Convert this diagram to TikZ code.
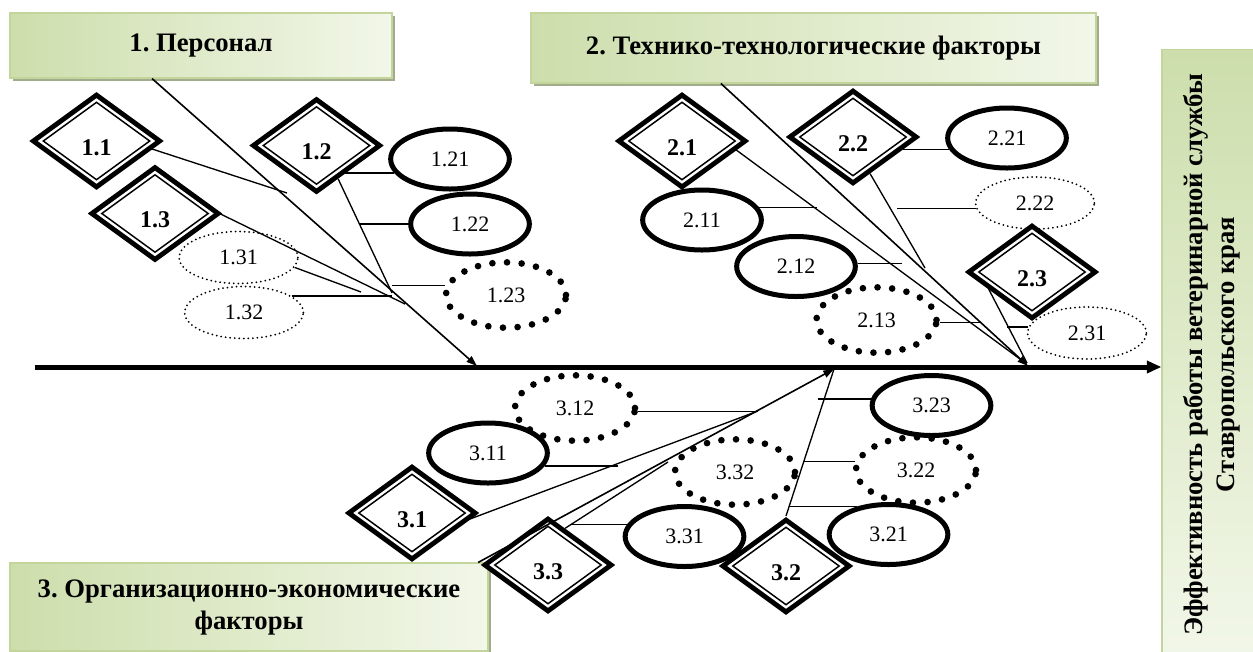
\documentclass[tikz,border=0pt]{standalone}
\usepackage{fontspec}
\setmainfont{Liberation Serif}
\usetikzlibrary{shapes.geometric,shadows,arrows.meta}

\definecolor{hdrL}{RGB}{205,222,172}
\definecolor{hdrR}{RGB}{242,247,233}
\definecolor{hdrB}{RGB}{195,213,155}
\definecolor{hdrS}{RGB}{160,172,140}

\begin{document}
\begin{tikzpicture}[x=0.75pt,y=-0.75pt,
    plate/.style={draw=hdrB,line width=0.8pt,left color=hdrL,right color=hdrR,
      inner sep=0pt,align=center,font=\fontsize{20}{24}\selectfont\bfseries\frenchspacing},
    hdr/.style={plate,
      drop shadow={shadow xshift=2.5pt,shadow yshift=-2.5pt,fill=hdrS,opacity=1}},
    fac/.style={diamond,draw=black,fill=white,line width=1.1pt,
      minimum width=84.75pt,minimum height=63pt,inner sep=0pt,outer sep=6pt,
      font=\fontsize{18}{18}\selectfont\bfseries,text height=21pt,text depth=0pt,
      preaction={draw=black,line width=12.4pt},
      preaction={fill=white},
      preaction={draw=white,line width=4.9pt}},
    sub/.style={ellipse,draw=black,inner sep=0pt,minimum width=89pt,minimum height=45pt,
      font=\fontsize{16.5}{16.5}\selectfont},
    subbold/.style={sub,line width=3.75pt},
    subdots/.style={sub,line width=5pt,line cap=round,dash pattern=on 0pt off 11pt,
      minimum width=90pt,minimum height=49pt},
    subfine/.style={sub,line width=1.5pt,line cap=round,dash pattern=on 0pt off 3.4pt,
      minimum height=39pt},
    twig/.style={draw=black,line width=1pt},
    bone/.style={line width=1.2pt,-{Triangle[length=8pt,width=5.5pt]}}]

  \useasboundingbox[fill=white] (0,0) rectangle (1253,651);

  % header boxes
  \node[hdr,minimum width=286.5pt,minimum height=48.75pt] (box1) at (201,45.5) {1. Персонал};
  \node[hdr,minimum width=423.75pt,minimum height=52.5pt] (box2) at (813.5,48) {2. Технико-технологические факторы};
  \node[hdr,minimum width=358.5pt,minimum height=66pt] (box3) at (249,607) {3. Организационно-экономические\\факторы};
  \node[plate,rotate=90,top color=hdrL,bottom color=hdrR,minimum width=458pt,minimum height=75pt] (res) at (1212,354.5)
    {Эффективность работы ветеринарной службы\\Ставропольского края};

  % second level
  \node[subbold] (e121) at (450,159) {1.21};
  \node[subbold] (e122) at (470,224) {1.22};
  \node[subdots] (e123) at (506,295) {1.23};
  \node[subfine] (e131) at (238.5,257.5) {1.31};
  \node[subfine] (e132) at (244,312.5) {1.32};
  \node[subbold] (e211) at (702,220) {2.11};
  \node[subbold] (e212) at (796,266.5) {2.12};
  \node[subdots] (e213) at (876.5,320) {2.13};
  \node[subbold] (e221) at (1007,138) {2.21};
  \node[subfine] (e222) at (1035,203) {2.22};
  \node[subfine] (e231) at (1087,333) {2.31};
  \node[subbold] (e311) at (488,453) {3.11};
  \node[subdots] (e312) at (575,408) {3.12};
  \node[subbold] (e321) at (888.5,534.5) {3.21};
  \node[subdots] (e322) at (916,470) {3.22};
  \node[subbold] (e323) at (931.5,405.5) {3.23};
  \node[subbold] (e331) at (684.5,536.5) {3.31};
  \node[subdots] (e332) at (735,472) {3.32};

  % first level
  \node[fac] (d11) at (96.5,141) {1.1};
  \node[fac] (d12) at (316.5,145.5) {1.2};
  \node[fac] (d13) at (155,213.5) {1.3};
  \node[fac] (d21) at (682,141) {2.1};
  \node[fac] (d22) at (853,137) {2.2};
  \node[fac] (d23) at (1032,272) {2.3};
  \node[fac] (d31) at (412,513) {3.1};
  \node[fac] (d32) at (786,566) {3.2};
  \node[fac] (d33) at (548,565) {3.3};

  % joints
  \coordinate (ax0) at (35,367);
  \coordinate (a1) at (477,366);
  \coordinate (a2) at (1028,366);
  \coordinate (a3) at (834,369);
  \coordinate (c11) at (287,193);
  \coordinate (c12) at (392,293);
  \coordinate (j122) at (359,224);
  \coordinate (j123) at (392,285);
  \coordinate (c13) at (405,304);
  \coordinate (c131) at (361,292);
  \coordinate (j132) at (392,297);
  \coordinate (c21) at (1024,362);
  \coordinate (j211) at (817,208);
  \coordinate (j212) at (902,263);
  \coordinate (j213) at (980,322);
  \coordinate (c22) at (925,268);
  \coordinate (j222) at (897,208);
  \coordinate (c23) at (1027,363);
  \coordinate (j231) at (1007,327);
  \coordinate (c31) at (758,411);
  \coordinate (j311) at (618,466);
  \coordinate (c33) at (668,462);
  \coordinate (j331) at (572,524);
  \coordinate (j321) at (789,507);
  \coordinate (j322) at (803,461);
  \coordinate (j323) at (818,400);

  % spine
  \draw[line width=3.75pt,-{Triangle[length=11pt,width=9pt]}] (ax0) -- (ax0 -| res.north);

  \begin{scope}[every edge/.style={twig}]
    \path (box1.214) edge[bone] (a1);
    \path (box2.201) edge[bone] (a2);
    \path (box3.11.8) edge[bone] (a3);
    % 1
    \path (d11.-8) edge (c11);
    \path (d12.-57) edge (c12);
    \path (e121.194) edge (e121.194 -| d12.-44);
    \path (e122.west) edge (e122.west -| j122);
    \path (e123.171) edge (e123.171 -| j123);
    \path (d13.east) edge (c13);
    \path (e131.-10) edge (c131);
    \path (e132.19) edge (e132.19 -| j132);
    % 2
    \path (d21.-9) edge (c21);
    \path (e211.12) edge (e211.12 -| j211);
    \path (e212.3) edge (e212.3 -| j212);
    \path (e213.-2) edge (e213.-2 -| j213);
    \path (d22.-65) edge (c22);
    \path (e221.191) edge (e221.191 -| d22.-13);
    \path (e222.185) edge (e222.185 -| j222);
    \path (d23.200) edge (c23);
    \path (e231.174) edge (e231.174 -| j231);
    % 3
    \path (d31.-7) edge (c31);
    \path (e311.-13) edge (e311.-13 -| j311);
    \path (e312.-3) edge (e312.-3 -| c31);
    \path (d33.65) edge (c33);
    \path (e331.168) edge (e331.168 -| j331);
    \path (d32.north) edge (a3);
    \path (e321.138) edge (e321.138 -| j321);
    \path (e322.172) edge (e322.172 -| j322);
    \path (e323.174) edge (e323.174 -| j323);
  \end{scope}
\end{tikzpicture}
\end{document}
